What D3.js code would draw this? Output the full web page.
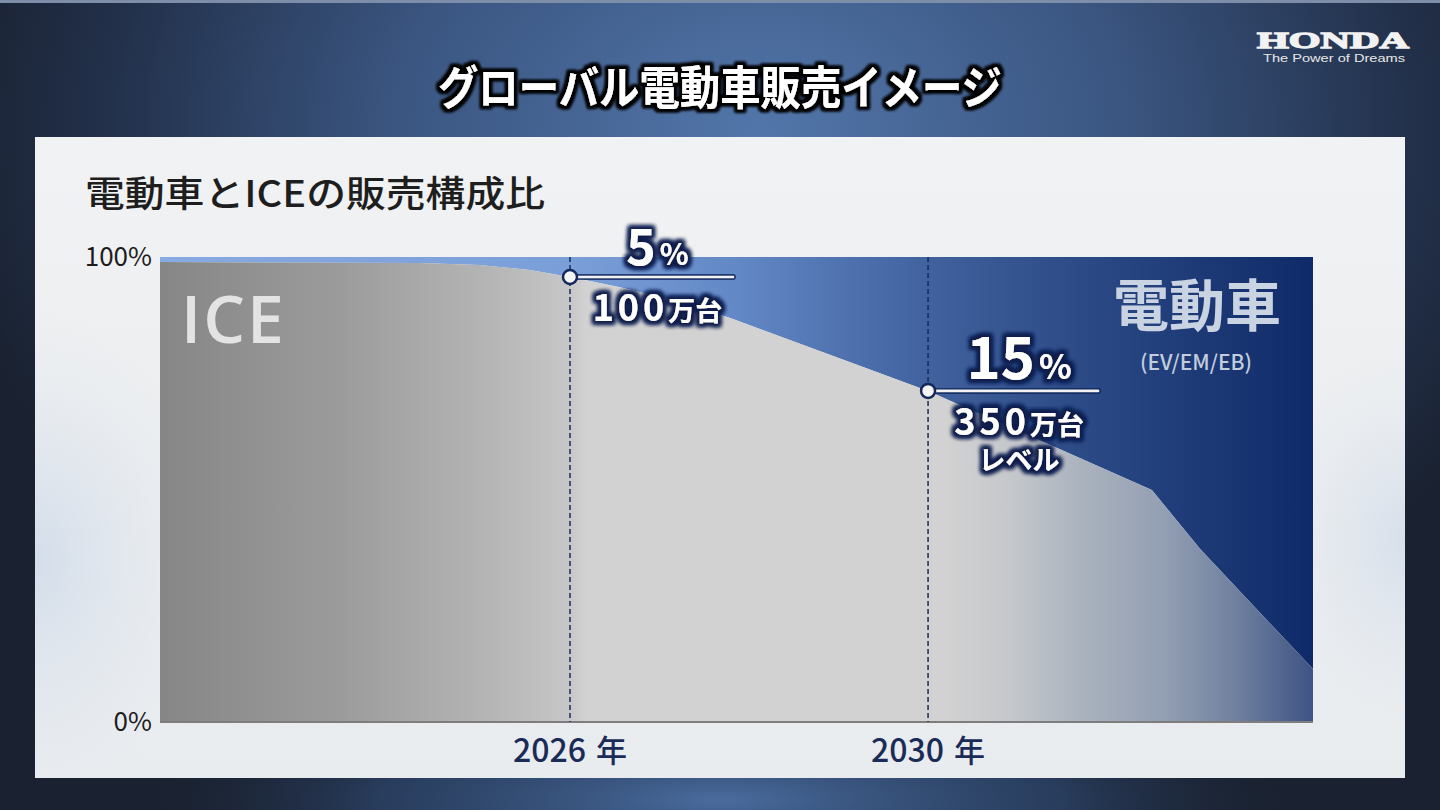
<!DOCTYPE html>
<html><head><meta charset="utf-8">
<script src="https://cdn.jsdelivr.net/npm/d3@7"></script>
<style>body{margin:0;background:#1c2535;} svg{display:block}</style>
</head><body>
<svg id="c" width="1440" height="810"></svg>
<script>
// ---- data (chart is an illustrative "image") ----
const years    = [2021.42, 2024.32, 2024.99, 2025.55, 2026, 2026.56, 2027.23, 2027.79, 2030, 2032.5, 2033.04, 2034.3];
const iceShare = [98.9, 98.7, 98.3, 97.2, 95.7, 93.5, 90.3, 86.9, 71.2, 49.9, 37.2, 11.4];   // % ICE
const markerYears = [2026, 2030];
const evShareLabels = ["5", "15"];
const unitLabels = ["100", "350"];
const extraLabels = ["", "レベル"];
const xTickYears = [2026, 2030];
const yTickValues = [0, 100];
const yTickLabels = ["0%", "100%"];

const svg = d3.select("#c");
const W = 1440, H = 810;
const JP = "'Noto Sans CJK JP','Noto Sans',sans-serif";

const x = d3.scaleLinear().domain([2021.42, 2034.3]).range([160, 1313]);
const y = d3.scaleLinear().domain([0, 100]).range([722, 257]);

const defs = svg.append("defs");
function lin(id, stops, x1, x2, y1=0, y2=0) {
  const g = defs.append("linearGradient").attr("id", id).attr("gradientUnits", "userSpaceOnUse")
    .attr("x1", x1).attr("x2", x2).attr("y1", y1).attr("y2", y2);
  stops.forEach(s => g.append("stop").attr("offset", s[0]).attr("stop-color", s[1]));
}
function rad(id, cx, cy, r, sy, stops) {
  const g = defs.append("radialGradient").attr("id", id).attr("gradientUnits", "userSpaceOnUse")
    .attr("cx", cx).attr("cy", cy).attr("r", r)
    .attr("gradientTransform", `translate(${cx},${cy}) scale(1,${sy}) translate(${-cx},${-cy})`);
  stops.forEach(s => g.append("stop").attr("offset", s[0]).attr("stop-color", s[1]).attr("stop-opacity", s[2] === undefined ? 1 : s[2]));
}
rad("bg", 760, 130, 820, 0.75, [[0, "#5276aa"], [0.45, "#3a5580"], [0.8, "#22304a"], [1, "#1a2231"]]);
rad("bgb", 720, 800, 560, 0.2, [[0, "#4a6c9e", 1], [0.6, "#33507c", 0.6], [1, "#22304a", 0]]);
lin("panel", [[0, "#f1f2f3"], [0.5, "#eceef0"], [1, "#e9ecef"]], 0, 0, 137, 778);
rad("ptintL", 35, 560, 180, 1.4, [[0, "#c9d6e8", 0.7], [1, "#dfe6ee", 0]]);
rad("ptintR", 1405, 540, 140, 1.4, [[0, "#c9d6e8", 0.6], [1, "#dfe6ee", 0]]);
lin("ice", [[0, "#868686"], [0.16, "#9c9c9c"], [0.3, "#b8b8b8"], [0.355, "#c7c7c7"], [0.37, "#d2d2d2"], [0.68, "#d2d2d2"],
            [0.74, "#c4c7cb"], [0.8, "#aab2be"], [0.87, "#939fb3"], [0.93, "#7282a0"], [1, "#3e5484"]], 160, 1313);
lin("ev", [[0, "#88aae2"], [0.36, "#7a9ed8"], [0.5, "#6288c5"], [0.67, "#40619d"], [0.8, "#2b4a86"], [1, "#0f2a68"]], 160, 1313);

function haloFilter(id, color, r, sd) {
  const f = defs.append("filter").attr("id", id).attr("x", "-30%").attr("y", "-40%").attr("width", "160%").attr("height", "180%");
  f.append("feMorphology").attr("in", "SourceAlpha").attr("operator", "dilate").attr("radius", r).attr("result", "d");
  f.append("feGaussianBlur").attr("in", "d").attr("stdDeviation", sd).attr("result", "b");
  f.append("feFlood").attr("flood-color", color);
  f.append("feComposite").attr("in2", "b").attr("operator", "in").attr("result", "g");
  const m = f.append("feMerge");
  m.append("feMergeNode").attr("in", "g"); m.append("feMergeNode").attr("in", "g"); m.append("feMergeNode").attr("in", "SourceGraphic");
}
haloFilter("halo", "#0c1f4d", 2.5, 2);
haloFilter("thalo", "#000000", 2.5, 1.8);

// ---- background & header ----
svg.append("rect").attr("width", W).attr("height", H).attr("fill", "url(#bg)");
svg.append("rect").attr("y", 700).attr("width", W).attr("height", 110).attr("fill", "url(#bgb)");
svg.append("rect").attr("width", W).attr("height", 3).attr("fill", "#7e8ea8");

svg.append("text").attr("x", 720).attr("y", 104).attr("text-anchor", "middle")
  .attr("font-family", JP).attr("font-weight", 700).attr("font-size", 46)
  .attr("textLength", 564).attr("lengthAdjust", "spacingAndGlyphs")
  .attr("fill", "#ffffff").attr("filter", "url(#thalo)").text("グローバル電動車販売イメージ");

svg.append("text").attr("x", 1257).attr("y", 48).attr("font-family", "'Liberation Serif',serif").attr("font-weight", 700)
  .attr("font-size", 24).attr("textLength", 152).attr("lengthAdjust", "spacingAndGlyphs")
  .attr("fill", "#f2f2f2").attr("stroke", "#f2f2f2").attr("stroke-width", 1.3).text("HONDA");
svg.append("text").attr("x", 1263).attr("y", 62).attr("font-family", "'Liberation Sans',Arial,sans-serif")
  .attr("font-size", 11.5).attr("textLength", 142).attr("lengthAdjust", "spacingAndGlyphs").attr("fill", "#e8e8e8").text("The Power of Dreams");

// ---- panel ----
svg.append("rect").attr("x", 35).attr("y", 137).attr("width", 1370).attr("height", 641).attr("fill", "url(#panel)");
svg.append("rect").attr("x", 35).attr("y", 137).attr("width", 1370).attr("height", 641).attr("fill", "url(#ptintL)");
svg.append("rect").attr("x", 35).attr("y", 137).attr("width", 1370).attr("height", 641).attr("fill", "url(#ptintR)");

svg.append("text").attr("x", 85).attr("y", 207).attr("font-family", JP).attr("font-weight", 500).attr("font-size", 36)
  .attr("textLength", 460).attr("lengthAdjust", "spacingAndGlyphs").attr("fill", "#1e1e1e").text("電動車とICEの販売構成比");

// ---- areas ----
const pts = years.map((yr, i) => ({ yr, v: iceShare[i] }));
const evArea = d3.area().x(d => x(d.yr)).y0(y(100)).y1(d => y(d.v)).curve(d3.curveLinear);
const iceArea = d3.area().x(d => x(d.yr)).y0(y(0)).y1(d => y(d.v)).curve(d3.curveLinear);
svg.append("path").attr("d", evArea(pts)).attr("fill", "url(#ev)");
svg.append("path").attr("d", iceArea(pts)).attr("fill", "url(#ice)");

// axis baseline
svg.append("line").attr("x1", x(years[0])).attr("x2", x(years[years.length - 1])).attr("y1", y(0)).attr("y2", y(0))
  .attr("stroke", "#7d7d7d").attr("stroke-width", 2);

// y tick labels
svg.selectAll(".yl").data(yTickValues).enter().append("text")
  .attr("x", 152).attr("y", d => y(d)).attr("dy", "0.36em").attr("text-anchor", "end")
  .attr("font-family", JP).attr("font-size", 26).attr("fill", "#1c1c1c")
  .text((d, i) => yTickLabels[i]);

// x tick labels
const xl = svg.selectAll(".xl").data(xTickYears).enter().append("text")
  .attr("x", d => x(d)).attr("y", 762).attr("text-anchor", "middle")
  .attr("font-family", JP).attr("font-weight", 500).attr("fill", "#1b2b57");
xl.append("tspan").attr("font-size", 32).text(d => d);
xl.append("tspan").attr("font-size", 31).attr("dx", 10).text("年");

// dashed verticals
svg.selectAll(".dl").data(markerYears).enter().append("line")
  .attr("x1", d => x(d)).attr("x2", d => x(d)).attr("y1", y(100)).attr("y2", y(0))
  .attr("stroke", "#172d5c").attr("stroke-width", 1.5).attr("stroke-dasharray", "5,3");

// big labels
svg.append("text").attr("x", 181).attr("y", 343).attr("font-family", "'Open Sans',sans-serif").attr("font-weight", 600)
  .attr("font-size", 66).attr("letter-spacing", 2).attr("fill", "#e3e3e3").text("ICE");
svg.append("text").attr("x", 1197).attr("y", 326).attr("text-anchor", "middle").attr("font-family", JP).attr("font-weight", 700)
  .attr("font-size", 56).attr("fill", "#c9d3e2").text("電動車");
svg.append("text").attr("x", 1196).attr("y", 370).attr("text-anchor", "middle").attr("font-family", JP).attr("font-weight", 500)
  .attr("font-size", 21).attr("fill", "#c3cddd").text("(EV/EM/EB)");

// ---- markers & annotations ----
const lineLen = [163, 170];
const bigSize = [50, 58], pctSize = [30, 34];
markerYears.forEach((yr, i) => {
  const v = iceShare[years.indexOf(yr)];
  const cx = x(yr), cy = y(v);
  const g = svg.append("g");
  g.append("line").attr("x1", cx).attr("x2", cx + lineLen[i]).attr("y1", cy).attr("y2", cy)
    .attr("stroke", "#10275a").attr("stroke-width", 6).attr("stroke-linecap", "round").attr("opacity", 0.8);
  g.append("line").attr("x1", cx).attr("x2", cx + lineLen[i]).attr("y1", cy).attr("y2", cy)
    .attr("stroke", "#f2f2f2").attr("stroke-width", 2.6).attr("stroke-linecap", "round");
  g.append("circle").attr("cx", cx).attr("cy", cy).attr("r", 7).attr("fill", "#f4f4f4")
    .attr("stroke", "#14295a").attr("stroke-width", 2.5);

  const t1 = g.append("text").attr("x", cx + lineLen[i] / 2 + 6).attr("y", cy - 12).attr("text-anchor", "middle")
    .attr("font-family", JP).attr("font-weight", 700).attr("fill", "#ffffff").attr("filter", "url(#halo)");
  t1.append("tspan").attr("font-size", bigSize[i]).text(evShareLabels[i]);
  t1.append("tspan").attr("font-size", pctSize[i]).attr("dx", 4).text("%");

  const t2 = g.append("text").attr("x", cx + lineLen[i] / 2 + 6).attr("y", cy + 44).attr("text-anchor", "middle")
    .attr("font-family", JP).attr("font-weight", 700).attr("fill", "#ffffff").attr("filter", "url(#halo)");
  t2.append("tspan").attr("font-size", 36).attr("letter-spacing", 4).text(unitLabels[i]);
  t2.append("tspan").attr("font-size", 27).text("万台");

  if (extraLabels[i]) {
    g.append("text").attr("x", cx + lineLen[i] / 2 + 6).attr("y", cy + 79).attr("text-anchor", "middle")
      .attr("font-family", JP).attr("font-weight", 700).attr("font-size", 27).attr("fill", "#ffffff")
      .attr("filter", "url(#halo)").text(extraLabels[i]);
  }
});
</script>
</body></html>
